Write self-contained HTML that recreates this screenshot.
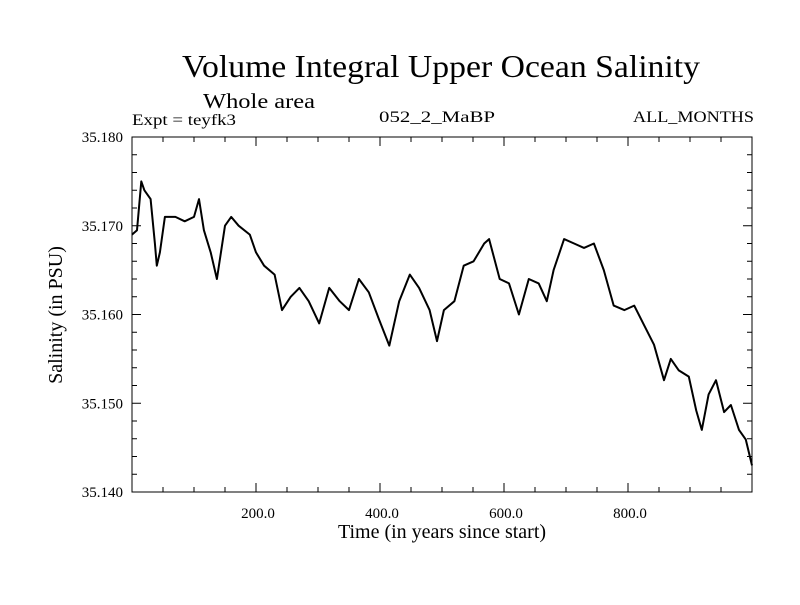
<!DOCTYPE html>
<html><head><meta charset="utf-8"><style>
body{margin:0;background:#fff;}
svg text{font-family:"Liberation Serif",serif;fill:#000;}
</style></head><body>
<svg id="chart" width="800" height="600" xmlns="http://www.w3.org/2000/svg">
<rect width="800" height="600" fill="#fff"/>
<text x="182" y="77" font-size="32" textLength="518" lengthAdjust="spacingAndGlyphs">Volume Integral Upper Ocean Salinity</text>
<text x="203" y="108" font-size="21" textLength="112" lengthAdjust="spacingAndGlyphs">Whole area</text>
<text x="132" y="125" font-size="16" textLength="104" lengthAdjust="spacingAndGlyphs">Expt = teyfk3</text>
<text x="379" y="122" font-size="16" textLength="116" lengthAdjust="spacingAndGlyphs">052_2_MaBP</text>
<text x="633" y="122" font-size="16" textLength="121" lengthAdjust="spacingAndGlyphs">ALL_MONTHS</text>
<text transform="translate(62,315) rotate(-90)" font-size="20" text-anchor="middle">Salinity (in PSU)</text>
<text x="442" y="538" font-size="20" text-anchor="middle">Time (in years since start)</text>
<g id="axes"></g>
<path id="series" fill="none" stroke="#000" stroke-width="2" stroke-linejoin="round"/>
<rect x="132" y="137" width="620" height="355" fill="none" stroke="#000" stroke-width="1"/>
</svg>
<script>
const years=[0,8,15,20,30,37,40,45,53,70,85,100,108,116,127,137,150,160,172,190,200,213,230,242,256,270,285,302,318,335,350,366,382,398,415,431,448,463,480,492,503,520,535,551,568,576,593,608,624,640,656,669,680,697,713,729,745,761,777,794,810,826,842,858,869,882,898,910,919,930,942,955,966,979,990,1000];
const salinity=[35.169,35.1695,35.175,35.174,35.173,35.168,35.1655,35.167,35.171,35.171,35.1705,35.171,35.173,35.1695,35.167,35.164,35.170,35.171,35.170,35.169,35.167,35.1655,35.1645,35.1605,35.162,35.163,35.1615,35.159,35.163,35.1615,35.1605,35.164,35.1625,35.1595,35.1565,35.1615,35.1645,35.163,35.1605,35.157,35.1605,35.1615,35.1655,35.166,35.168,35.1685,35.164,35.1635,35.160,35.164,35.1635,35.1615,35.165,35.1685,35.168,35.1675,35.168,35.165,35.161,35.1605,35.161,35.1588,35.1566,35.1526,35.155,35.1537,35.153,35.1492,35.147,35.151,35.1526,35.149,35.1498,35.147,35.1459,35.143];
const xTickVals=[200,400,600,800];
const xTickLabels=["200.0","400.0","600.0","800.0"];
const yTickVals=[35.14,35.15,35.16,35.17,35.18];
const yTickLabels=["35.140","35.150","35.160","35.170","35.180"];
const L=132,R=752,T=137,B=492,NS="http://www.w3.org/2000/svg";
const xs=v=>L+(v-0)/(1000-0)*(R-L);
const ys=v=>B-(v-35.14)/(0.04)*(B-T);
const axes=document.getElementById('axes');
function line(x1,y1,x2,y2){const l=document.createElementNS(NS,'line');l.setAttribute('x1',x1);l.setAttribute('y1',y1);l.setAttribute('x2',x2);l.setAttribute('y2',y2);l.setAttribute('stroke','#000');l.setAttribute('stroke-width','1');


axes.appendChild(l);}
for(let v=50;v<1000;v+=50){const major=v%200===0;const x=xs(v);line(x,B,x,B-(major?9:5));line(x,T,x,T+(major?9:5));}
for(let i=1;i<20;i++){const v=35.14+i*0.002;const major=i%5===0;const y=ys(v);line(L,y,L+(major?9:5),y);line(R,y,R-(major?9:5),y);}
xTickVals.forEach((v,i)=>{const t=document.createElementNS(NS,'text');t.setAttribute('x',xs(v)+2);t.setAttribute('y',B+26);t.setAttribute('font-size','15');t.setAttribute('text-anchor','middle');t.textContent=xTickLabels[i];


axes.appendChild(t);});
yTickVals.forEach((v,i)=>{const t=document.createElementNS(NS,'text');t.setAttribute('x',L-9);t.setAttribute('y',ys(v)+5);t.setAttribute('font-size','15');t.setAttribute('text-anchor','end');t.textContent=yTickLabels[i];


axes.appendChild(t);});
document.getElementById('series').setAttribute('d',years.map((y,i)=>(i?'L':'M')+xs(y).toFixed(1)+','+ys(salinity[i]).toFixed(1)).join(''));
</script>
</body></html>
